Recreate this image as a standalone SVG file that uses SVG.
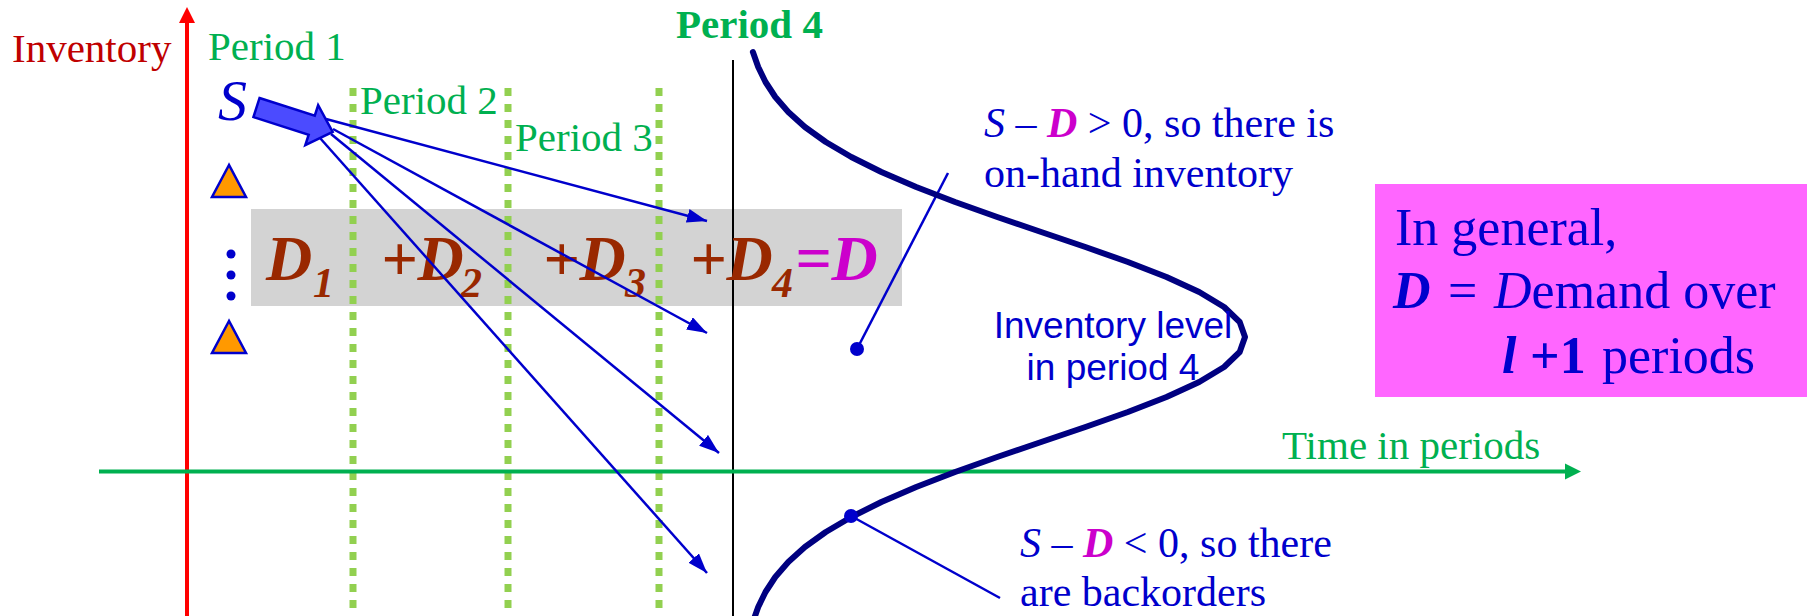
<svg xmlns="http://www.w3.org/2000/svg" width="1812" height="616" viewBox="0 0 1812 616">
<style>
.serif{font-family:"Liberation Serif","Times New Roman",serif}
.sans{font-family:"Liberation Sans",Arial,sans-serif}
.green{fill:#00B050}
.blue{fill:#0000CC}
.dred{fill:#992800}
.mag{fill:#CC00CC}
.bi{font-weight:bold;font-style:italic}
.it{font-style:italic}
.dot{stroke:#92D050;stroke-width:7;stroke-dasharray:8 8;fill:none}
.thin{stroke:#0000CC;stroke-width:2.5;fill:none}
</style>
<defs>
<marker id="ah" markerUnits="userSpaceOnUse" markerWidth="22" markerHeight="16" refX="20" refY="7" orient="auto">
<path d="M0,0 L20,7 L0,14 Z" fill="#0000CC"/>
</marker>
</defs>
<rect width="1812" height="616" fill="#ffffff"/>

<g id="gray-box"><rect x="251" y="209" width="651" height="97" fill="#D3D3D3"/></g>

<g id="period-lines">
<line class="dot" x1="353" y1="88" x2="353" y2="616"/>
<line class="dot" x1="508" y1="88" x2="508" y2="616"/>
<line class="dot" x1="659" y1="88" x2="659" y2="616"/>
<line x1="733" y1="60" x2="733" y2="616" stroke="#000000" stroke-width="2"/>
</g>

<g id="inventory-axis">
<line x1="187" y1="20" x2="187" y2="616" stroke="#FF0000" stroke-width="4"/>
<polygon points="187,7 195,23 179,23" fill="#FF0000"/>
<text class="serif" x="12" y="62" font-size="41" fill="#C00000">Inventory</text>
</g>

<g id="time-axis">
<line x1="99" y1="471.5" x2="1568" y2="471.5" stroke="#00B050" stroke-width="4"/>
<polygon points="1581,471.5 1565,463.5 1565,479.5" fill="#00B050"/>
<text class="serif green" x="1282" y="459" font-size="41">Time in periods</text>
</g>

<g id="period-labels" class="serif green" font-size="41">
<text x="208" y="60">Period 1</text>
<text x="360" y="114">Period 2</text>
<text x="515" y="151">Period 3</text>
<text x="676" y="38" font-weight="bold">Period 4</text>
</g>

<g id="S-node">
<text class="serif it blue" x="218" y="120" font-size="58">S</text>
<polygon transform="translate(256.5,107.5) rotate(17.76)" points="0,-10 58,-10 58,-21 80,0 58,21 58,10 0,10" fill="#4B4BFF" stroke="#0000CC" stroke-width="2.5" stroke-linejoin="miter"/>
</g>

<g id="markers">
<polygon points="229,165 212,197 246,197" fill="#FF9900" stroke="#0000CC" stroke-width="2.5"/>
<circle cx="231" cy="254" r="4.5" fill="#0000CC"/>
<circle cx="231" cy="275" r="4.5" fill="#0000CC"/>
<circle cx="231" cy="296" r="4.5" fill="#0000CC"/>
<polygon points="229,321 212,353 246,353" fill="#FF9900" stroke="#0000CC" stroke-width="2.5"/>
</g>

<g id="demand-sum" class="serif bi">
<text class="dred" x="266" y="280" font-size="64">D</text>
<text class="dred" x="313" y="297" font-size="42">1</text>
<text class="dred" x="381" y="280" font-size="64">+D</text>
<text class="dred" x="461" y="297" font-size="42">2</text>
<text class="dred" x="543" y="280" font-size="64">+D</text>
<text class="dred" x="625" y="297" font-size="42">3</text>
<text class="dred" x="690" y="280" font-size="64">+D</text>
<text class="dred" x="772" y="297" font-size="42">4</text>
<text class="mag" x="795" y="280" font-size="64">=D</text>
</g>

<g id="connectors">
<line class="thin" x1="326" y1="119" x2="707" y2="221" marker-end="url(#ah)"/>
<line class="thin" x1="333" y1="129" x2="707" y2="333" marker-end="url(#ah)"/>
<line class="thin" x1="331" y1="134" x2="719" y2="453" marker-end="url(#ah)"/>
<line class="thin" x1="320" y1="138" x2="707" y2="573" marker-end="url(#ah)"/>
<line class="thin" x1="857" y1="349" x2="948" y2="173"/>
<line class="thin" x1="851" y1="516" x2="1000" y2="598"/>
</g>

<g id="distribution">
<polyline fill="none" stroke="#000080" stroke-width="6" stroke-linejoin="round" stroke-linecap="round" points="752.9,52 758.2,67 765.5,82 775.3,97 788.3,112 804.9,127 825.8,142 851.3,157 881.4,172 916.2,187 955.1,202 997.2,217 1041.2,232 1085.4,247 1127.9,262 1166.5,277 1199.2,292 1224.1,307 1239.7,322 1245,337 1239.7,352 1224.1,367 1199.2,382 1166.5,397 1127.9,412 1085.4,427 1041.2,442 997.2,457 955.1,472 916.2,487 881.4,502 851.3,517 825.8,532 804.9,547 788.3,562 775.3,577 765.5,592 758.2,607 752.9,622"/>
<circle cx="857" cy="349" r="7" fill="#0000CC"/>
<circle cx="851" cy="516" r="7" fill="#0000CC"/>
<text class="sans blue" font-size="37" text-anchor="middle"><tspan x="1113" y="338">Inventory level</tspan><tspan x="1113" y="380">in period 4</tspan></text>
</g>

<g id="on-hand-label" class="serif blue" font-size="42">
<text x="984" y="137"><tspan class="it">S</tspan> – <tspan class="bi mag">D</tspan> &gt; 0, so there is</text>
<text x="984" y="187">on-hand inventory</text>
</g>

<g id="backorder-label" class="serif blue" font-size="42">
<text x="1020" y="557"><tspan class="it">S</tspan> – <tspan class="bi mag">D</tspan> &lt; 0, so there</text>
<text x="1020" y="606">are backorders</text>
</g>

<g id="general-box">
<rect x="1375" y="184" width="432" height="213" fill="#FF66FF"/>
<g class="serif blue" font-size="52">
<text x="1395" y="245">In general,</text>
<text x="1393" y="308"><tspan class="bi">D</tspan><tspan x="1448">=</tspan><tspan x="1494" class="it">D</tspan>emand over</text>
<text x="1502" y="373"><tspan class="bi">l</tspan><tspan x="1530" font-weight="bold">+1</tspan><tspan x="1602">periods</tspan></text>
</g>
</g>
</svg>
